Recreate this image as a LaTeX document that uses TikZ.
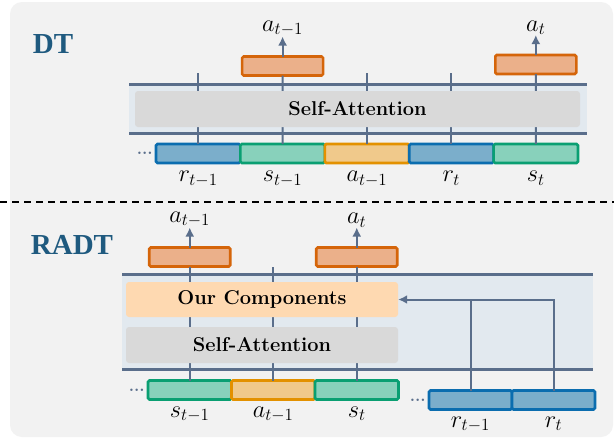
\RequirePackage{fix-cm}
\documentclass[tikz,border=0pt]{standalone}
\usepackage{fontspec}
\newfontfamily\headfont{Liberation Serif}
\usetikzlibrary{positioning,arrows.meta}

\definecolor{panelgray}{HTML}{F2F2F2}
\definecolor{bandblue}{HTML}{E2E9EF}
\definecolor{slate}{HTML}{5A6E8B}
\definecolor{sagray}{HTML}{D9D9D9}
\definecolor{ocpeach}{HTML}{FED9B1}
\definecolor{titleblue}{HTML}{1F5A7F}
\definecolor{outorange}{HTML}{D5650A}
\definecolor{outorangef}{HTML}{EBB08A}
\definecolor{tokblue}{HTML}{0B6DAF}
\definecolor{tokbluef}{HTML}{7BAECB}
\definecolor{tokgreen}{HTML}{0A9F72}
\definecolor{tokgreenf}{HTML}{88D1BB}
\definecolor{tokyellow}{HTML}{E39100}
\definecolor{tokyellowf}{HTML}{F0C98B}

\tikzset{
  tok/.style={draw, line width=2.6pt, rounded corners=1.5pt, minimum height=19pt,
    inner sep=0pt, outer sep=0pt},
  rtok/.style={tok, draw=tokblue, fill=tokbluef},
  stok/.style={tok, draw=tokgreen, fill=tokgreenf},
  atok/.style={tok, draw=tokyellow, fill=tokyellowf},
  outbox/.style={tok, draw=outorange, fill=outorangef, minimum width=81pt},
  lbl/.style={inner sep=0pt, scale=1.22, font=\fontsize{20}{24}\selectfont},
  title/.style={text=titleblue, inner sep=0pt, font=\headfont\bfseries\fontsize{29}{32}\selectfont},
  layer/.style={rounded corners=3pt, inner sep=0pt, font=\bfseries\fontsize{20}{24}\selectfont},
  bar/.style={slate, line width=3pt},
  tick/.style={slate, line width=2pt},
  dotsl/.style={text=slate, inner sep=0pt, font=\bfseries\fontsize{17}{20}\selectfont},
}

\begin{document}
\begin{tikzpicture}[x=1pt,y=-1pt,>={Latex[length=9pt,width=9pt]}]
\useasboundingbox (0,0) rectangle (614,445);
\fill[white] (0,0) rectangle (614,445);
\fill[panelgray, rounded corners=12pt] (10,2) rectangle (613,437);

% ---------- DT ----------
\node[title] (dttitle) at (53,44) {DT};

\fill[bandblue] (129,84) rectangle (587,133);

% input tokens
\node[rtok, minimum width=84.4pt] (dtr1) at (198.2,153.5) {};
\node[stok, minimum width=84.4pt, right=0pt of dtr1] (dts1) {};
\node[atok, minimum width=84.4pt, right=0pt of dts1] (dta1) {};
\node[rtok, minimum width=84.4pt, right=0pt of dta1] (dtr2) {};
\node[stok, minimum width=84.4pt, right=0pt of dtr2] (dts2) {};
\node[dotsl, left=3pt of dtr1] (dtdots) {...};

\node[lbl, below=8pt of dtr1] (dtr1l) {$r_{t-1}$};
\node[lbl, below=8pt of dts1] (dts1l) {$s_{t-1}$};
\node[lbl, below=8pt of dta1] (dta1l) {$a_{t-1}$};
\node[lbl, below=8pt of dtr2] (dtr2l) {$r_t$};
\node[lbl, below=8pt of dts2] (dts2l) {$s_t$};

% predicted actions
\node[outbox] (dto1) at (282.6,66) {};
\node[outbox] (dto2) at (535.8,64.5) {};
\node[lbl, above=20pt of dto1] (dto1l) {$a_{t-1}$};
\node[lbl, above=20pt of dto2] (dto2l) {$a_t$};

% ticks through the layer
\coordinate (dttop) at (0,73);
\draw[tick] (dtr1.north) -- (dtr1.north |- dttop);
\draw[tick] (dts1.north) -- (dto1.south);
\draw[tick] (dta1.north) -- (dta1.north |- dttop);
\draw[tick] (dtr2.north) -- (dtr2.north |- dttop);
\draw[tick] (dts2.north) -- (dto2.south);
\draw[tick, ->] (dto1.north) -- (dto1l.south);
\draw[tick, ->] (dto2.north) -- (dto2l.south);

\draw[bar] (129,84) -- (587,84);
\draw[bar] (129,133) -- (587,133);
\node[layer, fill=sagray, minimum width=445pt, minimum height=36pt] (dtsa) at (357.5,109) {Self-Attention};

% dashed separator
\draw[dashed, line width=1.2pt, dash pattern=on 7pt off 5pt] (0,202) -- (614,202);

% ---------- RADT ----------
\node[title] (radttitle) at (72,245) {RADT};

\fill[bandblue] (122,274) rectangle (593,369);

\node[stok, minimum width=83.5pt] (rds1) at (189.75,390) {};
\node[atok, minimum width=83.5pt, right=0pt of rds1] (rda1) {};
\node[stok, minimum width=83.5pt, right=0pt of rda1] (rds2) {};
\node[dotsl, left=3pt of rds1] (rddots) {...};

\node[rtok, minimum width=83pt] (rdr1) at (470.5,400) {};
\node[rtok, minimum width=83pt, right=0pt of rdr1] (rdr2) {};
\node[dotsl, left=3pt of rdr1] (rddots2) {...};

\node[lbl, below=7pt of rds1] (rds1l) {$s_{t-1}$};
\node[lbl, below=7pt of rda1] (rda1l) {$a_{t-1}$};
\node[lbl, below=7pt of rds2] (rds2l) {$s_t$};
\node[lbl, below=7pt of rdr1] (rdr1l) {$r_{t-1}$};
\node[lbl, below=7pt of rdr2] (rdr2l) {$r_t$};

\node[outbox] (rdo1) at (189.75,257) {};
\node[outbox] (rdo2) at (356.75,257) {};
\node[lbl, above=20pt of rdo1] (rdo1l) {$a_{t-1}$};
\node[lbl, above=20pt of rdo2] (rdo2l) {$a_t$};

\coordinate (rdtop) at (0,267);
\draw[tick] (rds1.north) -- (rdo1.south);
\draw[tick] (rda1.north) -- (rda1.north |- rdtop);
\draw[tick] (rds2.north) -- (rdo2.south);
\draw[tick, ->] (rdo1.north) -- (rdo1l.south);
\draw[tick, ->] (rdo2.north) -- (rdo2l.south);

\draw[bar] (122,274) -- (593,274);
\draw[bar] (122,369) -- (593,369);
\node[layer, fill=ocpeach, minimum width=272pt, minimum height=35pt] (rdoc) at (262,299.5) {Our Components};
\node[layer, fill=sagray, minimum width=272pt, minimum height=36pt] (rdsa) at (262,345) {Self-Attention};

% returns fed into our components
\draw[tick] (rdr1.north) -- (rdr1.north |- rdoc.east);
\draw[tick, ->] (rdr2.north) |- (rdoc.east);
\end{tikzpicture}
\end{document}
